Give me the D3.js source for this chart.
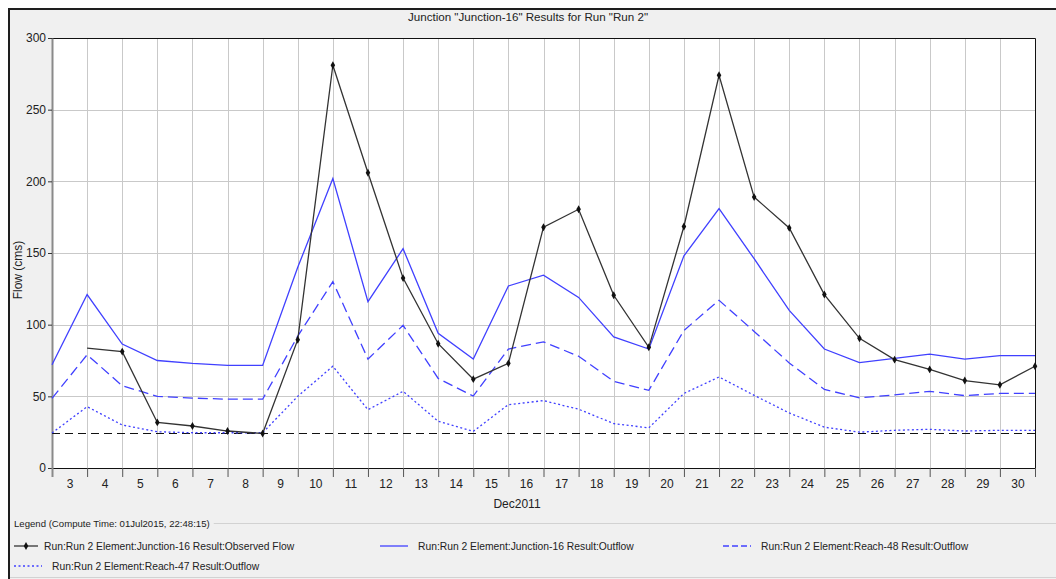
<!DOCTYPE html>
<html>
<head>
<meta charset="utf-8">
<script src="https://cdn.jsdelivr.net/npm/d3@7"></script>
<style>
  body { margin: 0; background: #fff; }
  svg { display: block; }
  text { font-family: "Liberation Sans", Arial, sans-serif; fill: #222; }
</style>
</head>
<body>
<div id="chart"></div>
<script>
// daily values, Dec 3 .. Dec 31 2011
const days = ["2011-12-03","2011-12-04","2011-12-05","2011-12-06","2011-12-07","2011-12-08","2011-12-09",
  "2011-12-10","2011-12-11","2011-12-12","2011-12-13","2011-12-14","2011-12-15","2011-12-16","2011-12-17",
  "2011-12-18","2011-12-19","2011-12-20","2011-12-21","2011-12-22","2011-12-23","2011-12-24","2011-12-25",
  "2011-12-26","2011-12-27","2011-12-28","2011-12-29","2011-12-30","2011-12-31"];

const observedFlow = [null, 83.7, 81.2, 31.8, 29.3, 25.8, 24.1, 89.5, 281, 206, 132.5, 86.7, 62, 73, 168,
  180.5, 120.5, 84.2, 168.5, 274, 189, 167.5, 121, 90.5, 75.6, 68.8, 61, 58, 71];
const junctionOutflow = [72, 121, 86.5, 75, 73, 71.6, 71.6, 140, 202, 116, 153, 94, 76, 127, 134.5,
  119, 91.5, 83, 148, 181, 146, 110, 83, 73.5, 76.5, 79.5, 76, 78.4, 78.4];
const reach48Outflow = [48.6, 79, 57.4, 50, 48.8, 48, 48, 92, 130, 76, 99.5, 62.5, 50.2, 83, 88,
  78, 60.5, 54.2, 96, 117, 95.3, 73.3, 54.8, 49, 51, 53.5, 50.5, 52, 52];
const reach47Outflow = [24.4, 42.8, 30, 25.3, 24.6, 24.6, 24.6, 50, 71, 40.7, 53.5, 32.6, 25.6, 44.2, 47,
  41, 31, 28, 52, 63.5, 50.7, 38.4, 28.5, 25, 26.3, 27, 25.8, 26.3, 26.3];
const baseLevel = 24.4;

const yTicks = [0, 50, 100, 150, 200, 250, 300];
const seriesNames = [
  "Run:Run 2 Element:Junction-16 Result:Observed Flow",
  "Run:Run 2 Element:Junction-16 Result:Outflow",
  "Run:Run 2 Element:Reach-48 Result:Outflow",
  "Run:Run 2 Element:Reach-47 Result:Outflow"
];
const chartTitle = 'Junction "Junction-16" Results for Run "Run 2"';
const legendTitle = "Legend (Compute Time: 01Jul2015, 22:48:15)";

const W = 1056, H = 579;
const PLOT = { left: 52, right: 1035, top: 38, bottom: 468 };
const BLUE = "#4040ff";

const parse = d3.utcParse("%Y-%m-%d");
const dates = days.map(parse);

const svg = d3.select("#chart").append("svg")
  .attr("width", W).attr("height", H);

// panel background + frame
svg.append("rect").attr("x", 8).attr("y", 8).attr("width", W - 8).attr("height", H - 8).attr("fill", "#f0f0f0");
svg.append("path").attr("d", `M9,${H} V9 H${W}`).attr("fill", "none").attr("stroke", "#1e1e1e").attr("stroke-width", 2);

svg.append("text")
  .attr("x", 528).attr("y", 21)
  .attr("text-anchor", "middle")
  .attr("font-size", 11.6)
  .text(chartTitle);

const x = d3.scaleUtc()
  .domain([dates[0], dates[dates.length - 1]])
  .range([PLOT.left, PLOT.right]);
const y = d3.scaleLinear()
  .domain([0, 300])
  .range([PLOT.bottom, PLOT.top]);

const plot = svg.append("g");
plot.append("rect")
  .attr("x", PLOT.left).attr("y", PLOT.top)
  .attr("width", PLOT.right - PLOT.left).attr("height", PLOT.bottom - PLOT.top)
  .attr("fill", "#fff");

// grid
plot.append("g").selectAll("line").data(dates.slice(1, -1)).join("line")
  .attr("x1", d => Math.round(x(d)) + 0.5).attr("x2", d => Math.round(x(d)) + 0.5)
  .attr("y1", PLOT.top).attr("y2", PLOT.bottom)
  .attr("stroke", "#c9c9c9");
plot.append("g").selectAll("line").data(yTicks.slice(1, -1)).join("line")
  .attr("x1", PLOT.left).attr("x2", PLOT.right)
  .attr("y1", d => Math.round(y(d)) + 0.5).attr("y2", d => Math.round(y(d)) + 0.5)
  .attr("stroke", "#c9c9c9");

// top/right frame of the plot
plot.append("path")
  .attr("d", `M${PLOT.left},${PLOT.top + 0.5} H${PLOT.right + 0.5} V${PLOT.bottom}`)
  .attr("fill", "none").attr("stroke", "#111");

// axes
const yAxis = svg.append("g")
  .attr("transform", `translate(${PLOT.left},0)`)
  .call(d3.axisLeft(y).tickValues(yTicks).tickSize(4).tickPadding(2).tickSizeOuter(0));
yAxis.select(".domain").attr("stroke", "#8a8a8a").attr("stroke-width", 2);
yAxis.selectAll(".tick line").attr("stroke", "#333");
yAxis.selectAll(".tick text").attr("font-size", 12).attr("font-family", null).attr("fill", "#222");

const xAxis = svg.append("g")
  .attr("transform", `translate(0,${PLOT.bottom})`)
  .call(d3.axisBottom(x).tickValues(dates).tickSize(9).tickFormat("").tickSizeOuter(0));
xAxis.select(".domain").attr("stroke", "#111");
xAxis.selectAll(".tick line").attr("stroke", "#555");
xAxis.selectAll(".tick").filter((d, i) => i === 0).select("line").attr("stroke", "#8a8a8a").attr("stroke-width", 2);

const noons = dates.slice(0, -1).map(d => d3.utcHour.offset(d, 12));
const xLabels = svg.append("g")
  .attr("transform", `translate(0,${PLOT.bottom})`)
  .call(d3.axisBottom(x).tickValues(noons).tickSize(0).tickPadding(11).tickFormat(d3.utcFormat("%-d")));
xLabels.select(".domain").remove();
xLabels.selectAll(".tick text").attr("font-size", 12).attr("font-family", null).attr("fill", "#222");

svg.append("text")
  .attr("x", 517).attr("y", 508)
  .attr("text-anchor", "middle")
  .attr("font-size", 12)
  .text("Dec2011");

svg.append("text")
  .attr("transform", "translate(22,270) rotate(-90)")
  .attr("text-anchor", "middle")
  .attr("font-size", 12)
  .text("Flow (cms)");

// series
const line = d3.line()
  .defined(d => d != null)
  .x((d, i) => x(dates[i]))
  .y(d => y(d));

const lines = svg.append("g").attr("fill", "none");
const baseY = Math.round(y(baseLevel)) + 0.5;
lines.append("line")
  .attr("x1", PLOT.left).attr("x2", PLOT.right)
  .attr("y1", baseY).attr("y2", baseY)
  .attr("stroke", "#111").attr("stroke-dasharray", "8,5");

const styles = [
  { data: observedFlow, stroke: "#333", dash: null, width: 1.3 },
  { data: junctionOutflow, stroke: BLUE, dash: null, width: 1.3 },
  { data: reach48Outflow, stroke: BLUE, dash: "10,5", width: 1.3 },
  { data: reach47Outflow, stroke: BLUE, dash: "2,2.5", width: 1.3 }
];
[3, 2, 1, 0].forEach(k => {
  const s = styles[k];
  lines.append("path")
    .attr("d", line(s.data))
    .attr("stroke", s.stroke)
    .attr("stroke-width", s.width)
    .attr("stroke-dasharray", s.dash);
});

const diamond = d3.symbol().type(d3.symbolDiamond).size(18);
svg.append("g").selectAll("path")
  .data(observedFlow.map((v, i) => ({ v, i })).filter(d => d.v != null && d.i > 1))
  .join("path")
  .attr("transform", d => `translate(${x(dates[d.i])},${y(d.v)})`)
  .attr("d", diamond)
  .attr("fill", "#111");

// legend
const lt = svg.append("text")
  .attr("x", 14).attr("y", 527)
  .attr("font-size", 9.6)
  .text(legendTitle);
const ltEnd = 14 + lt.node().getComputedTextLength() + 4;
svg.append("line")
  .attr("x1", ltEnd).attr("x2", W).attr("y1", 523.5).attr("y2", 523.5)
  .attr("stroke", "#d2d2d2");
svg.append("line")
  .attr("x1", 10).attr("x2", W).attr("y1", 577.5).attr("y2", 577.5)
  .attr("stroke", "#d2d2d2");

const legendPos = [
  { x: 14, y: 546 }, { x: 380, y: 546 }, { x: 723, y: 546 }, { x: 14, y: 566 }
];
const legend = svg.append("g").selectAll("g")
  .data(seriesNames)
  .join("g")
  .attr("transform", (d, i) => `translate(${legendPos[i].x},${legendPos[i].y})`);
legend.append("line")
  .attr("x1", 0).attr("x2", (d, i) => i === 0 ? 24 : 28)
  .attr("stroke", (d, i) => styles[i].stroke)
  .attr("stroke-width", 1.3)
  .attr("stroke-dasharray", (d, i) => i === 2 ? "6,3" : styles[i].dash);
legend.filter((d, i) => i === 0).append("path")
  .attr("transform", "translate(12,0)")
  .attr("d", diamond)
  .attr("fill", "#111");
legend.append("text")
  .attr("x", (d, i) => i === 0 ? 30 : 38)
  .attr("y", 4)
  .attr("font-size", 10.3)
  .text(d => d);
</script>
</body>
</html>
